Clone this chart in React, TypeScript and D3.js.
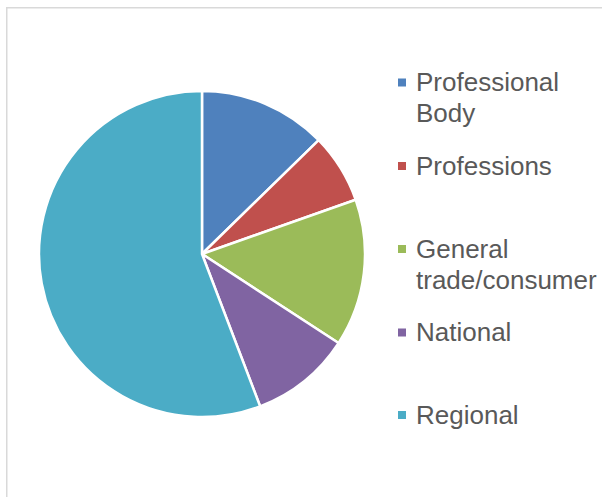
import React from "react";
import * as d3 from "d3";

const categories = ["Professional Body", "Professions", "General trade/consumer", "National", "Regional"];
const values = [12.7, 6.9, 14.6, 10.0, 55.8];
const colors = ["#4F81BD", "#C0504D", "#9BBB59", "#8064A2", "#4BACC6"];
const legendLines = [["Professional", "Body"], ["Professions"], ["General", "trade/consumer"], ["National"], ["Regional"]];
const legendMarkerY = [82.5, 166, 249, 332.5, 415];

export default function App() {
  const W = 602, H = 497;
  const cx = 202, cy = 254, r = 163;
  const pie = d3.pie<number>().sort(null).value((d) => d);
  const arcs = pie(values);
  const arc = d3.arc<d3.PieArcDatum<number>>().innerRadius(0).outerRadius(r);
  return (
    <svg width={W} height={H} style={{ position: "absolute", left: 0, top: 0, display: "block" }}>
      <rect x={0} y={0} width={W} height={H} fill="#fff" />
      <rect x={6.75} y={7.75} width={W + 10} height={H + 10} fill="#fff" stroke="#d9d9d9" strokeWidth={1.5} />
      <g transform={`translate(${cx},${cy})`}>
        {arcs.map((a, i) => (
          <path key={categories[i]} d={arc(a) || ""} fill={colors[i]} stroke="#fff" strokeWidth={2.5} strokeLinejoin="round" />
        ))}
      </g>
      {categories.map((c, i) => (
        <g key={c}>
          <rect x={398} y={legendMarkerY[i] - 4} width={8} height={8} fill={colors[i]} />
          <text x={416} y={legendMarkerY[i] + 8.5} fontFamily="'Liberation Sans', Arial, sans-serif" fontSize={26} fill="#595959">
            {legendLines[i].map((l, j) => (
              <tspan key={j} x={416} dy={j === 0 ? 0 : 31}>{l}</tspan>
            ))}
          </text>
        </g>
      ))}
    </svg>
  );
}
